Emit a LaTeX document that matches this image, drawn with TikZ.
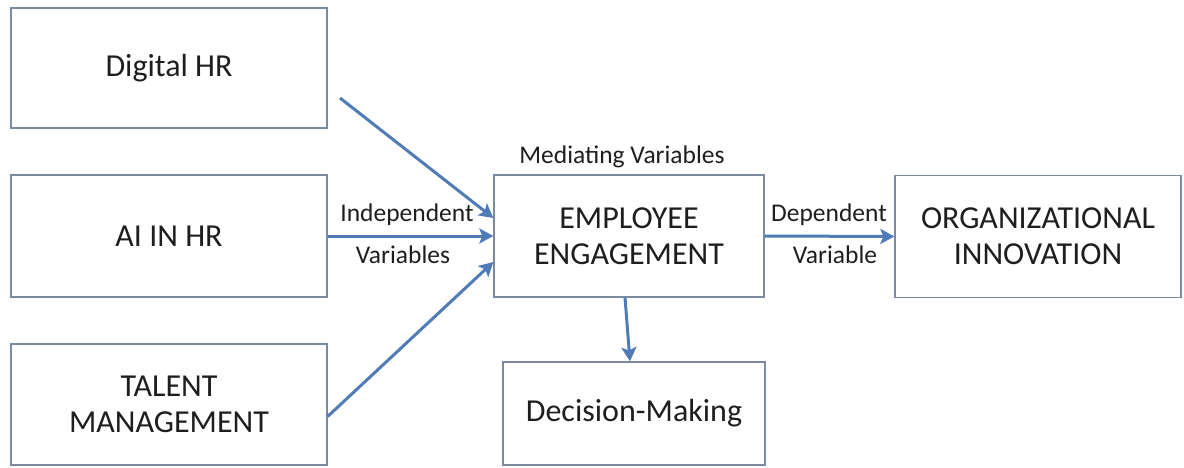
\documentclass[tikz,border=0pt]{standalone}
\usepackage{fontspec}
\setmainfont{Carlito}
\usetikzlibrary{arrows.meta}
\definecolor{boxline}{RGB}{122,138,160}
\definecolor{flow}{RGB}{79,124,182}
\definecolor{ink}{RGB}{30,30,30}
\begin{document}
\begin{tikzpicture}[x=1pt,y=-1pt,
  box/.style={draw=boxline,line width=1.3pt,fill=white,inner sep=0pt,
    text=ink,align=center,font=\fontsize{32}{36}\selectfont},
  lbl/.style={text=ink,inner sep=0pt,font=\fontsize{25.5}{29}\selectfont},
  flowarrow/.style={draw=flow,line width=3pt,
    -{Stealth[length=14pt,width=15pt,inset=3pt]}}]
\useasboundingbox (0,0) rectangle (1184,468);
% input boxes
\node[box,minimum width=316pt,minimum height=120pt] (dhr) at (169,68) {Digital HR};
\node[box,minimum width=316pt,minimum height=122pt] (ai) at (169,236) {AI IN HR};
\node[box,minimum width=316pt,minimum height=121pt] (tm) at (169,404.5) {TALENT\\MANAGEMENT};
% mediator, outcome and decision box
\node[box,minimum width=270pt,minimum height=122pt] (ee) at (629,236) {EMPLOYEE\\ENGAGEMENT};
\node[box,minimum width=286pt,minimum height=122pt] (oi) at (1038,236.5) {ORGANIZATIONAL\\INNOVATION};
\node[box,minimum width=262pt,minimum height=103pt] (dm) at (634,413.5) {Decision-Making};
% labels
\node[lbl] (med) at (622,157) {Mediating Variables};
\node[lbl] (ind1) at (407,215) {Independent};
\node[lbl] (ind2) at (403,255) {Variables};
\node[lbl] (dep1) at (829,215) {Dependent};
\node[lbl] (dep2) at (835,255) {Variable};
% connectors
\coordinate (dstart) at (340,98);
\draw[flowarrow] (dstart) -- ([yshift=18pt]ee.west);
\draw[flowarrow] (ai.east) -- (ee.west);
\draw[flowarrow] ([yshift=-12pt]tm.east) -- ([yshift=-26pt]ee.west);
\draw[flowarrow] (ee.east) -- (oi.west);
\draw[flowarrow] ([xshift=-4pt]ee.south) -- ([xshift=-4pt]dm.north);
\end{tikzpicture}
\end{document}
